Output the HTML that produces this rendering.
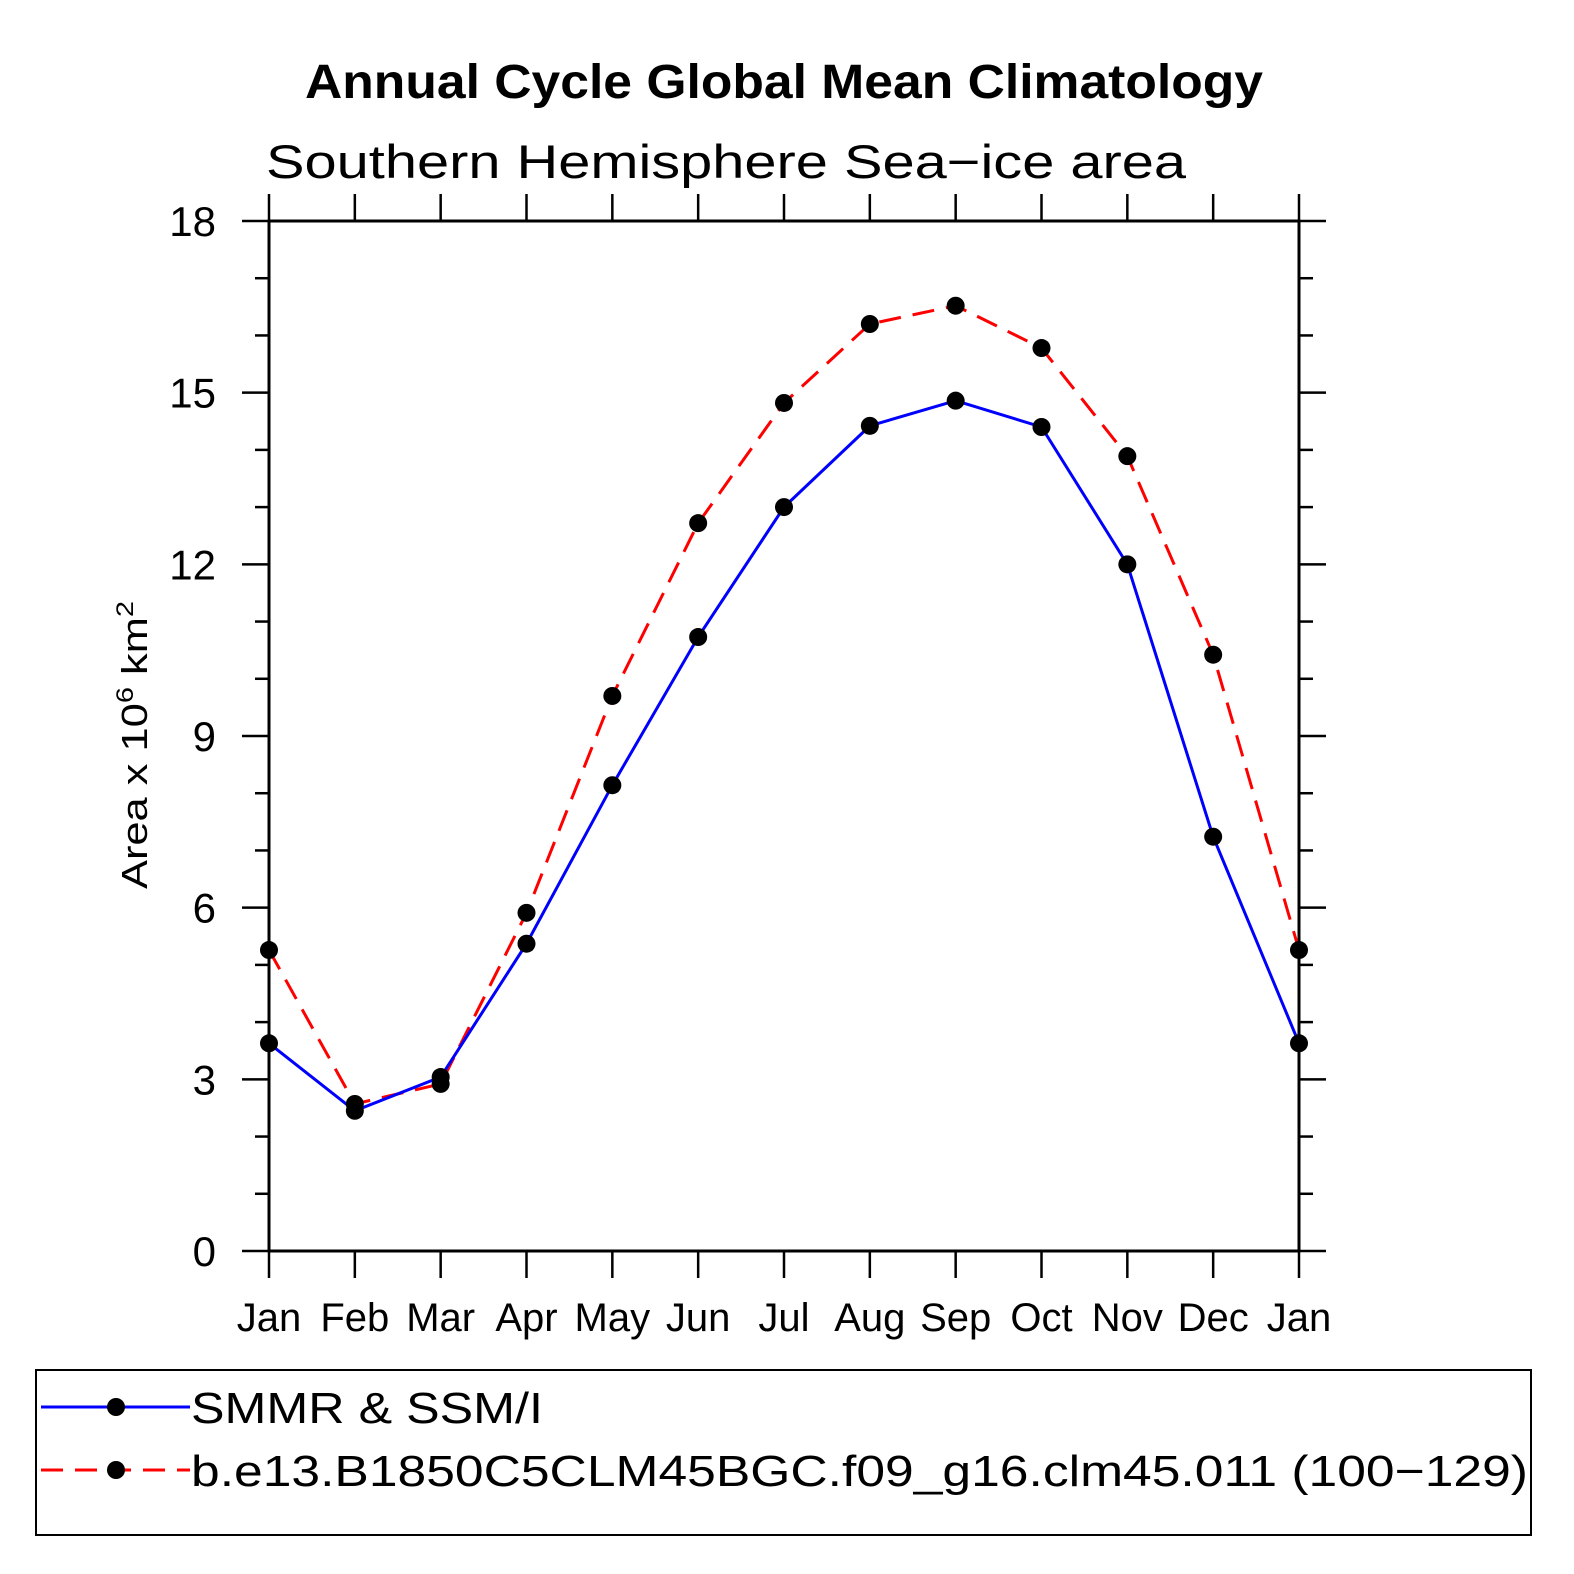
<!DOCTYPE html>
<html><head><meta charset="utf-8"><style>
html,body{margin:0;padding:0;background:#fff;}
svg{display:block;}
text{font-family:"Liberation Sans",sans-serif;fill:#000;}
</style></head><body>
<svg id="chart" width="1574" height="1574" viewBox="0 0 1574 1574" xmlns="http://www.w3.org/2000/svg">
<text x="784" y="98" text-anchor="middle" font-size="48" font-weight="bold" textLength="958" lengthAdjust="spacingAndGlyphs">Annual Cycle Global Mean Climatology</text>
<text x="266" y="178" font-size="47" textLength="920" lengthAdjust="spacingAndGlyphs">Southern Hemisphere Sea−ice area</text>
<text transform="translate(147,745) rotate(-90)" text-anchor="middle" font-size="36" textLength="288" lengthAdjust="spacingAndGlyphs">Area x 10<tspan dy="-14" font-size="24">6</tspan><tspan dy="14"> km</tspan><tspan dy="-14" font-size="24">2</tspan></text>
<g id="axes"></g>
<g id="series"></g>
<g>
<rect x="36" y="1370" width="1495" height="165" fill="none" stroke="#000" stroke-width="2"/>
<g>
<line x1="41" y1="1407" x2="190" y2="1407" stroke="#0000ff" stroke-width="3"/>
<circle cx="116" cy="1407" r="9"/>
<text x="191" y="1423" font-size="44" textLength="352" lengthAdjust="spacingAndGlyphs">SMMR &amp; SSM/I</text>
</g>
<g>
<line x1="41" y1="1470" x2="190" y2="1470" stroke="#ff0000" stroke-width="3" stroke-dasharray="22,12"/>
<circle cx="116" cy="1470" r="9"/>
<text x="191" y="1486" font-size="44" textLength="1337" lengthAdjust="spacingAndGlyphs">b.e13.B1850C5CLM45BGC.f09_g16.clm45.011 (100−129)</text>
</g>
</g>
</svg>
<script>
const months = ["Jan","Feb","Mar","Apr","May","Jun","Jul","Aug","Sep","Oct","Nov","Dec","Jan"];
const obsValues = [3.63,2.45,3.04,5.37,8.14,10.73,13.0,14.42,14.86,14.4,12.0,7.24,3.63];
const modelValues = [5.26,2.57,2.92,5.91,9.7,12.72,14.82,16.2,16.52,15.78,13.89,10.42,5.26];
const yTickLabels = ["0","3","6","9","12","15","18"];
const yMin = 0, yMax = 18;

const NS = "http://www.w3.org/2000/svg";
const X0 = 269, X1 = 1299, Y0 = 1251, Y1 = 221;
function xs(i){ return X0 + (X1 - X0) * i / (months.length - 1); }
function ys(v){ return Y0 - (Y0 - Y1) * (v - yMin) / (yMax - yMin); }
function mk(tag, attrs, parent){ const e = document.createElementNS(NS, tag); for (const k in attrs) e.setAttribute(k, attrs[k]); parent.appendChild(e); return e; }

const axes = document.getElementById('axes');
const frame = mk('rect', {x:X0, y:Y1, width:X1-X0, height:Y0-Y1, fill:'none', stroke:'#000', 'stroke-width':3}, axes);


for (let v = yMin; v <= yMax; v++) {
  const major = v % 3 === 0;
  const L = major ? 27 : 14;
  const y = ys(v);
  const t1 = mk('line', {x1:X0-L, y1:y, x2:X0, y2:y, stroke:'#000', 'stroke-width':2.5}, axes);
  
  
  const t2 = mk('line', {x1:X1, y1:y, x2:X1+L, y2:y, stroke:'#000', 'stroke-width':2.5}, axes);
  
  
}
yTickLabels.forEach(function(lbl){
  const v = parseFloat(lbl);
  const t = mk('text', {x:216, y:ys(v)+15, 'text-anchor':'end', 'font-size':42}, axes);
  t.textContent = lbl;
  
  
});
months.forEach(function(m, i){
  const x = xs(i);
  const a = mk('line', {x1:x, y1:Y0, x2:x, y2:Y0+27, stroke:'#000', 'stroke-width':2.5}, axes);
  
  
  const b = mk('line', {x1:x, y1:Y1-27, x2:x, y2:Y1, stroke:'#000', 'stroke-width':2.5}, axes);
  
  
  const t = mk('text', {x:x, y:1331, 'text-anchor':'middle', 'font-size':40}, axes);
  t.textContent = m;
  
  
});

const series = document.getElementById('series');
function drawSeries(vals, color, dash, name){
  const pts = vals.map(function(v, i){ return xs(i) + ',' + ys(v); }).join(' ');
  const attrs = {points:pts, fill:'none', stroke:color, 'stroke-width':3};
  if (dash) attrs['stroke-dasharray'] = dash;
  const pl = mk('polyline', attrs, series);
  
  
}
drawSeries(modelValues, '#ff0000', '22,12', 'model');
drawSeries(obsValues, '#0000ff', null, 'obs');
[obsValues, modelValues].forEach(function(vals, s){
  vals.forEach(function(v, i){
    const c = mk('circle', {cx:xs(i), cy:ys(v), r:9, fill:'#000'}, series);
    
    
  });
});
</script>
</body></html>
